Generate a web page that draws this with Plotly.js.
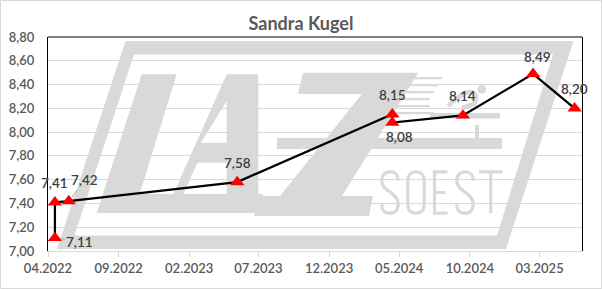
<!DOCTYPE html>
<html>
<head>
<meta charset="utf-8">
<script src="https://cdn.plot.ly/plotly-3.0.1.min.js"></script>
<style>
  html, body { margin: 0; padding: 0; background: #ffffff; }
  #chart { width: 602px; height: 289px; }
</style>
</head>
<body>
<div id="chart"></div>
<script>
// ---- data ----
const chartTitle = "Sandra Kugel";
const dates = ["2022-04-16", "2022-04-16", "2022-05-16", "2023-05-16", "2024-04-16", "2024-04-16", "2024-09-16", "2025-02-15", "2025-05-16"];
const values = [7.11, 7.41, 7.42, 7.58, 8.15, 8.08, 8.14, 8.49, 8.20];
const xRange = ["2022-04-01", "2025-06-01"];
const yRange = [7.0, 8.8];

// ---- label placement (style) ----
const labelOffsets = [[25, 4], [0, -19], [16, -21], [0, -19], [0, -19], [7, 14], [0, -19], [4, -17], [0, -19]];
const labelLeader = [true, false, true, false, false, false, false, false, false];

// ---- plot geometry ----
const L = 48, T = 37, W = 534, H = 214;
const px = x => (x - L) / W;
const py = y => (T + H - y) / H;
function conv(path) {
  return path.replace(/(-?\d+\.?\d*),(-?\d+\.?\d*)/g, (m, a, b) => px(+a).toFixed(5) + ',' + py(+b).toFixed(5));
}
function poly(pts) {
  return 'M' + pts.map(p => p[0] + ',' + p[1]).join('L') + 'Z';
}
const logoColor = '#d9d9d9';
function fillShape(path) {
  return { type: 'path', xref: 'paper', yref: 'paper', layer: 'below', path: conv(path),
           fillcolor: logoColor, line: { width: 0 }, fillrule: 'evenodd' };
}
function strokeShape(path, w) {
  return { type: 'path', xref: 'paper', yref: 'paper', layer: 'below', path: conv(path),
           fillcolor: 'rgba(0,0,0,0)', line: { color: logoColor, width: w || 3.2 } };
}

const shapes = [];
// frame parallelogram
shapes.push(fillShape(
  poly([[125.5, 41], [573.5, 41], [506, 249], [57, 249]]) +
  poly([[134, 54.5], [553, 54.5], [497, 235.5], [74.5, 235.5]])
));
// L + A
shapes.push(fillShape(
  poly([[141.7, 74.3], [176.7, 74.3], [139.6, 194], [173.4, 194], [226.7, 74.3], [258.3, 74.3], [258.3, 194], [263, 194], [259, 213], [96.7, 213]]) +
  poly([[226.7, 101], [226.7, 142.7], [201, 142.7]]) +
  poly([[197.4, 162.7], [226.7, 162.7], [226.7, 194], [183.4, 194]])
));
// Z
shapes.push(fillShape(
  poly([[303, 72.7], [418.3, 72.7], [342, 196], [373, 196], [369, 216], [254, 216], [258, 196], [280, 196], [362, 94], [298, 94]])
));
// long horizontal bar
shapes.push(fillShape(poly([[277, 138], [502, 138], [502, 149], [277, 149]])));
// runner base bar + stem
shapes.push(fillShape(poly([[430, 113], [500, 113], [500, 118.5], [430, 118.5]])));
shapes.push(fillShape(poly([[475, 125], [479, 125], [479, 138], [475, 138]])));
// speed lines
[[404, 77], [400, 84], [396, 91], [392, 98], [392, 105], [396, 112]].forEach(s => {
  shapes.push(fillShape(poly([[s[0], s[1]], [s[0] + 38, s[1]], [s[0] + 38, s[1] + 2.2], [s[0], s[1] + 2.2]])));
});
// runner head and body
shapes.push({ type: 'circle', xref: 'paper', yref: 'paper', layer: 'below',
  x0: px(477.5), x1: px(486), y0: py(93.5), y1: py(85), fillcolor: logoColor, line: { width: 0 } });
shapes.push(strokeShape('M448,106 C455,100 462,92 470,92 C476,92 478,98 474,104 L462,108', 4.5));
// SOEST letters
function S(x0, x1, y0, y1) {
  const xm = (x0 + x1) / 2, ym = (y0 + y1) / 2;
  return `M${x1},${y0 + 9} C${x1},${y0 + 2} ${x1 - 3},${y0} ${xm},${y0} C${x0 + 3},${y0} ${x0},${y0 + 3} ${x0},${y0 + 10} ` +
         `C${x0},${ym - 2} ${x1},${ym + 1} ${x1},${y1 - 10} C${x1},${y1 - 3} ${x1 - 3},${y1} ${xm},${y1} C${x0 + 3},${y1} ${x0},${y1 - 2} ${x0},${y1 - 9}`;
}
function O(x0, x1, y0, y1) {
  const xm = (x0 + x1) / 2;
  return `M${x0},${y0 + 10} C${x0},${y0 + 2} ${x0 + 3},${y0} ${xm},${y0} C${x1 - 3},${y0} ${x1},${y0 + 2} ${x1},${y0 + 10} ` +
         `L${x1},${y1 - 10} C${x1},${y1 - 2} ${x1 - 3},${y1} ${xm},${y1} C${x0 + 3},${y1} ${x0},${y1 - 2} ${x0},${y1 - 10} Z`;
}
function E(x0, x1, y0, y1) {
  const ym = (y0 + y1) / 2;
  return `M${x1},${y0} L${x0},${y0} L${x0},${y1} L${x1},${y1} M${x0},${ym} L${x1 - 2},${ym}`;
}
function Tt(x0, x1, y0, y1) {
  const xm = (x0 + x1) / 2;
  return `M${x0},${y0} L${x1},${y0} M${xm},${y0} L${xm},${y1}`;
}
const ly0 = 171.8, ly1 = 213.2;
shapes.push(strokeShape(S(381.8, 398.2, ly0, ly1)));
shapes.push(strokeShape(O(407.8, 424.2, ly0, ly1)));
shapes.push(strokeShape(E(434.5, 447.5, ly0, ly1)));
shapes.push(strokeShape(S(456.8, 473.2, ly0, ly1)));
shapes.push(strokeShape(Tt(479, 502.5, ly0, ly1)));

// plot-area top border
shapes.push({ type: 'line', xref: 'paper', yref: 'paper', x0: 0, x1: 1, y0: 1, y1: 1, line: { color: '#000000', width: 1 } });
// outer chart border
shapes.push({ type: 'rect', xref: 'paper', yref: 'paper',
  x0: px(0.5), x1: px(601.5), y0: py(288.5), y1: py(0.5),
  line: { color: '#d9d9d9', width: 1 }, fillcolor: 'rgba(0,0,0,0)' });

// fonts
const FAM = 'Lato, Liberation Sans, Arial, sans-serif';

// data labels
const fmt = v => v.toFixed(2).replace('.', ',');
const annotations = values.map((v, i) => {
  const off = labelOffsets[i];
  const a = { x: dates[i], y: v, xref: 'x', yref: 'y', text: fmt(v),
    font: { family: FAM, size: 13.5, color: '#404040', weight: 600 } };
  if (labelLeader[i]) {
    Object.assign(a, { showarrow: true, ax: off[0], ay: off[1], arrowhead: 0, arrowwidth: 1,
      arrowcolor: '#a6a6a6', standoff: 5 });
  } else {
    Object.assign(a, { showarrow: false, xshift: off[0], yshift: -off[1] });
  }
  return a;
});

const trace = {
  type: 'scatter', mode: 'lines+markers',
  x: dates, y: values,
  line: { color: '#000000', width: 2.25 },
  marker: { symbol: 'triangle-up', size: 12.5, color: '#ff0000' },
  hoverinfo: 'skip', cliponaxis: false
};

const layout = {
  width: 602, height: 289,
  margin: { l: L, r: 602 - L - W, t: T, b: 289 - T - H, pad: 0 },
  paper_bgcolor: '#ffffff', plot_bgcolor: 'rgba(0,0,0,0)',
  separators: ',.',
  showlegend: false,
  title: { text: chartTitle, font: { family: FAM, size: 18, color: '#595959', weight: 700 },
           x: 0.5, xanchor: 'center', xref: 'container', y: 1 - 23.5 / 289, yanchor: 'middle', yref: 'container' },
  xaxis: {
    type: 'date', range: xRange, tick0: '2022-04-01', dtick: 'M5', tickformat: '%m.%Y',
    showgrid: false, zeroline: false, showline: true, linecolor: '#d9d9d9', linewidth: 1,
    ticks: 'outside', ticklen: 5, tickcolor: '#d9d9d9', tickwidth: 1,
    tickfont: { family: FAM, size: 13, color: '#595959', weight: 600 },
    fixedrange: true
  },
  yaxis: {
    range: yRange, dtick: 0.2, tick0: 7, tickformat: '.2f',
    showgrid: true, gridcolor: '#d9d9d9', gridwidth: 1, zeroline: false,
    showline: true, mirror: true, linecolor: '#000000', linewidth: 1,
    ticks: '', ticklabelstandoff: 10,
    tickfont: { family: FAM, size: 13, color: '#595959', weight: 600 },
    fixedrange: true
  },
  shapes: shapes,
  annotations: annotations
};

Plotly.newPlot('chart', [trace], layout, { displayModeBar: false, staticPlot: true });
</script>
</body>
</html>
